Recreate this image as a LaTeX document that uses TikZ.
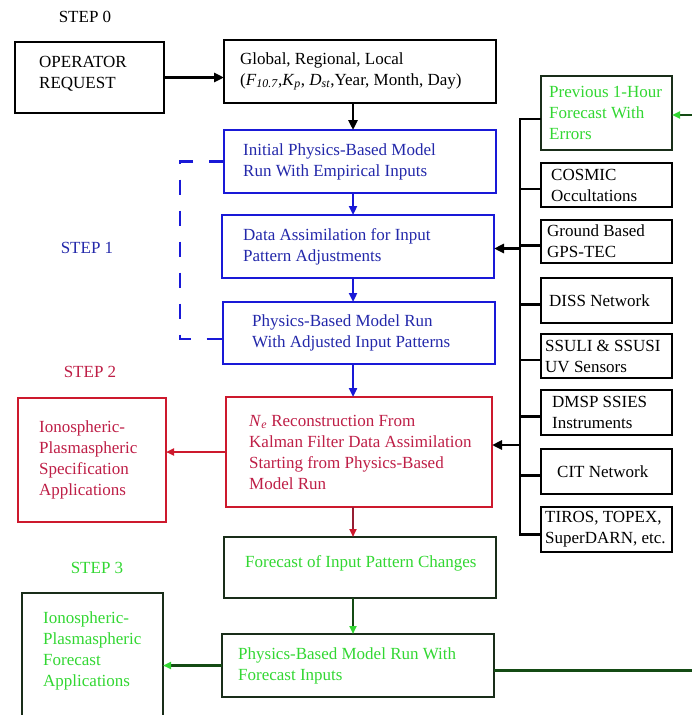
\documentclass[tikz,border=0pt]{standalone}
\usepackage{fontspec}
\setmainfont{Liberation Serif}
\usetikzlibrary{arrows.meta}
\definecolor{bline}{RGB}{25,25,215}
\definecolor{btext}{RGB}{35,40,170}
\definecolor{rline}{RGB}{205,25,45}
\definecolor{rdark}{RGB}{150,30,50}
\definecolor{rtext}{RGB}{190,30,70}
\definecolor{gtext}{RGB}{50,215,50}
\definecolor{gbox}{RGB}{25,45,25}
\definecolor{gdark}{RGB}{20,75,20}
\begin{document}
\begin{tikzpicture}[x=1pt,y=-1pt,
  every node/.style={font=\fontsize{17}{21}\selectfont},
  bx/.style={draw, line width=2.6pt, rectangle, inner sep=0pt, outer sep=0pt},
  txt/.style={align=left, inner sep=0pt, anchor=west},
  karr/.style={draw=black, line width=2.6pt, -{Triangle[length=10pt,width=9pt]}},
  kline/.style={draw=black, line width=2.6pt},
  barr/.style={draw=bline, line width=2.4pt, -{Triangle[length=9pt,width=8pt]}},
  bdash/.style={draw=bline, line width=2.8pt, dash pattern=on 15pt off 16pt},
  rarr/.style={draw=rline, line width=2.2pt, -{Triangle[length=8pt,width=7pt]}},
  rdarr/.style={draw=rdark, line width=2.2pt, -{Triangle[length=8pt,width=7pt,color=rline]}},
  garr/.style={draw=gdark, line width=2.2pt, -{Triangle[length=8pt,width=7pt,color=gtext]}},
  steplbl/.style={inner sep=0pt}
]
\useasboundingbox (0,0) rectangle (691,715);

% step labels
\node[steplbl] (s0) at (85,17) {STEP 0};
\node[steplbl, text=btext] (s1) at (87,248) {STEP 1};
\node[steplbl, text=rtext] (s2) at (90,372) {STEP 2};
\node[steplbl, text=gtext] (s3) at (97,568) {STEP 3};

% step 0
\node[bx, minimum width=149pt, minimum height=71pt] (op) at (89.5,77.5) {};
\node[txt] (opT) at ([xshift=24pt,yshift=4pt]op.west) {OPERATOR\\REQUEST};
\node[bx, minimum width=272pt, minimum height=63pt] (glob) at (360,71.5) {};
\node[txt] (globT) at ([xshift=16pt]glob.west) {Global, Regional, Local\\(\textit{F}\textsubscript{\textit{10.7}},\textit{K}\textsubscript{\textit{p}}, \textit{D}\textsubscript{\textit{st}},Year, Month, Day)};

% step 1
\node[bx, draw=bline, minimum width=272pt, minimum height=63pt] (b1) at (360,161.5) {};
\node[txt, text=btext] (b1T) at ([xshift=19pt]b1.west) {Initial Physics-Based Model\\Run With Empirical Inputs};
\node[bx, draw=bline, minimum width=272pt, minimum height=63pt] (b2) at (358,246.5) {};
\node[txt, text=btext] (b2T) at ([xshift=21pt]b2.west) {Data Assimilation for Input\\Pattern Adjustments};
\node[bx, draw=bline, minimum width=272pt, minimum height=62pt] (b3) at (359,333) {};
\node[txt, text=btext] (b3T) at ([xshift=29pt]b3.west) {Physics-Based Model Run\\With Adjusted Input Patterns};

% step 2
\node[bx, draw=rline, minimum width=266pt, minimum height=110pt] (red) at (359,452) {};
\node[txt, text=rtext] (redT) at ([xshift=23pt]red.west) {\textit{N}\textsubscript{\textit{e}} Reconstruction From\\Kalman Filter Data Assimilation\\Starting from Physics-Based\\Model Run};
\node[bx, draw=rline, minimum width=148pt, minimum height=124pt] (redL) at (92,460) {};
\node[txt, text=rtext] (redLT) at ([xshift=21pt]redL.west) {Ionospheric-\\Plasmaspheric\\Specification\\Applications};

% step 3
\node[bx, draw=gbox, minimum width=272pt, minimum height=61pt] (g1) at (360,567.5) {};
\node[txt, text=gtext] (g1T) at ([xshift=21pt,yshift=4pt]g1.west) {Forecast of Input Pattern Changes};
\node[bx, draw=gbox, minimum width=272pt, minimum height=63pt] (g2) at (358,665.5) {};
\node[txt, text=gtext] (g2T) at ([xshift=16pt]g2.west) {Physics-Based Model Run With\\Forecast Inputs};
\node[bx, draw=gbox, minimum width=141pt, minimum height=125pt] (gL) at (92.5,655.5) {};
\node[txt, text=gtext] (gLT) at ([xshift=21pt,yshift=5pt]gL.west) {Ionospheric-\\Plasmaspheric\\Forecast\\Applications};

% data sources
\node[bx, draw=gbox, minimum width=131pt, minimum height=74pt] (prev) at (606.5,113) {};
\node[txt, text=gtext] (prevT) at ([xshift=8pt]prev.west) {Previous 1-Hour\\Forecast With\\Errors};
\node[bx, minimum width=131pt, minimum height=44pt] (cosmic) at (606.5,185) {};
\node[txt] (cosmicT) at ([xshift=10pt]cosmic.west) {COSMIC\\Occultations};
\node[bx, minimum width=131pt, minimum height=43pt] (gps) at (606.5,241.5) {};
\node[txt] (gpsT) at ([xshift=6pt]gps.west) {Ground Based\\GPS-TEC};
\node[bx, minimum width=131pt, minimum height=45pt] (diss) at (606.5,300.5) {};
\node[txt] (dissT) at ([xshift=8pt]diss.west) {DISS Network};
\node[bx, minimum width=131pt, minimum height=44pt] (ssuli) at (606.5,356) {};
\node[txt] (ssuliT) at ([xshift=4pt]ssuli.west) {SSULI \& SSUSI\\UV Sensors};
\node[bx, minimum width=131pt, minimum height=45pt] (dmsp) at (606.5,412.5) {};
\node[txt] (dmspT) at ([xshift=11pt]dmsp.west) {DMSP SSIES\\Instruments};
\node[bx, minimum width=131pt, minimum height=45pt] (cit) at (606.5,471.5) {};
\node[txt] (citT) at ([xshift=16pt]cit.west) {CIT Network};
\node[bx, minimum width=131pt, minimum height=45pt] (tiros) at (606.5,529.5) {};
\node[txt] (tirosT) at ([xshift=4pt]tiros.west) {TIROS, TOPEX,\\SuperDARN, etc.};

% connectors
\coordinate (ax) at (353,0);
\coordinate (bus) at (520,0);
\coordinate (rt) at (699,0);
\coordinate (dl) at (180,0);

\draw[karr] (op.east) -- (op.east -| glob.west);
\draw[karr] (glob.south -| ax) -- (b1.north -| ax);
\draw[barr] (b1.south -| ax) -- (b2.north -| ax);
\draw[barr] (b2.south -| ax) -- (b3.north -| ax);
\draw[barr] (b3.south -| ax) -- (red.north -| ax);
\draw[rdarr] (red.south -| ax) -- (g1.north -| ax);
\draw[garr] (g1.south -| ax) -- (g2.north -| ax);
\draw[rarr] (red.west) -- (red.west -| redL.east);
\draw[garr] (g2.west) -- (g2.west -| gL.east);
\draw[garr] ([yshift=-5pt]g2.east) -- ([yshift=-5pt]g2.east -| rt) -- ([yshift=-2pt]prev.east -| rt) -- ([yshift=-2pt]prev.east);

\draw[bdash] (b1.west) -| ([yshift=-6pt]dl |- b3.west) -- ([yshift=-6pt]b3.west);

\draw[kline, line join=miter] ([yshift=-6pt]prev.west) -| ([yshift=-5pt]bus |- tiros.west) -- ([yshift=-5pt]tiros.west);
\foreach \n in {cosmic,gps,diss,ssuli,dmsp,cit}
  \draw[kline] ([yshift=-4pt]\n.west) -- ([yshift=-4pt]\n.west -| bus);
\draw[karr] ([yshift=-2pt]b2.east -| bus) -- ([yshift=-2pt]b2.east);
\draw[karr] ([yshift=7pt]red.east -| bus) -- ([yshift=7pt]red.east);
\end{tikzpicture}
\end{document}
